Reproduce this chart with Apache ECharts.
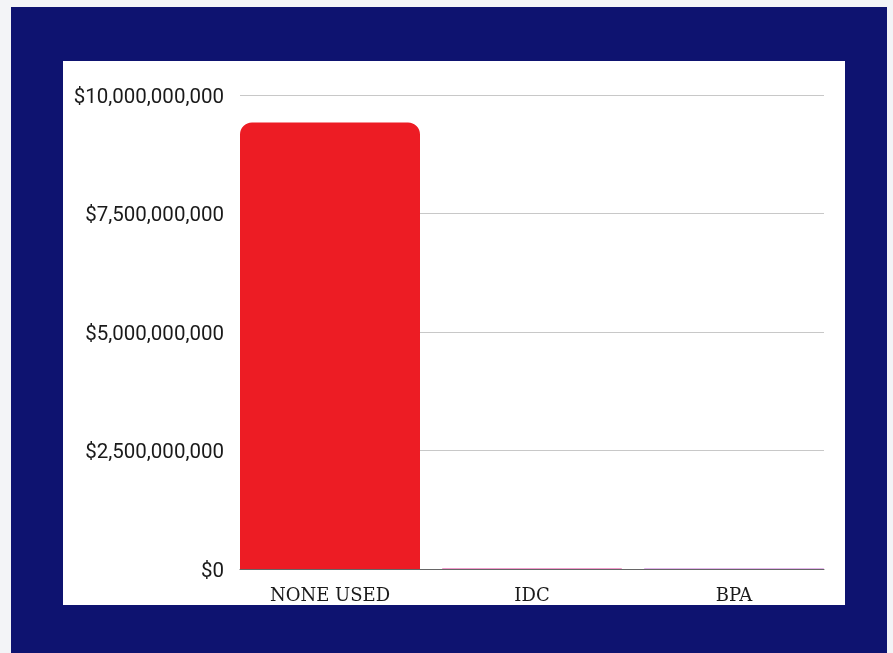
<!DOCTYPE html>
<html>
<head>
<meta charset="utf-8">
<script src="https://cdn.jsdelivr.net/npm/echarts@6/dist/echarts.min.js"></script>
<style>
  html, body { margin: 0; padding: 0; width: 893px; height: 653px; overflow: hidden; background: #f3f4f7; }
  #frame { position: absolute; left: 11px; top: 7px; width: 876px; height: 660px; background: #0e1370; }
  #panel { position: absolute; left: 63px; top: 61px; width: 782px; height: 544px; background: #ffffff; }
  #chart { position: absolute; left: 0; top: 0; width: 893px; height: 653px; }
</style>
</head>
<body>
<div id="frame"></div>
<div id="panel"></div>
<div id="chart"></div>
<script>
const categories = ['NONE USED', 'IDC', 'BPA'];
const values = [9420000000, 12000000, 11000000];
const barColors = ['#ed1c24', '#e2399a', '#c56bd6'];
const yMin = 0;
const yMax = 10000000000;
const yInterval = 2500000000;

function money(v) {
  return '{v|$' + Math.round(v).toString().replace(/\B(?=(\d{3})+(?!\d))/g, ',') + '}';
}

const chart = echarts.init(document.getElementById('chart'), null, { renderer: 'canvas' });
chart.setOption({
  backgroundColor: 'transparent',
  animation: false,
  grid: [
    { left: 240, right: 69, top: 95, bottom: 84 },
    { left: 229, right: 58, top: 95, bottom: 84 }
  ],
  xAxis: [
    {
      gridIndex: 0, type: 'value', min: 0, max: 1,
      axisLine: { show: true, onZero: false, lineStyle: { color: '#666666', width: 1 } },
      axisTick: { show: false }, axisLabel: { show: false }, splitLine: { show: false }
    },
    {
      gridIndex: 1, type: 'category', data: categories,
      axisLine: { show: false }, axisTick: { show: false },
      axisLabel: { color: '#1a1a1a', fontFamily: 'DejaVu Serif', fontSize: 18, margin: 18 }
    }
  ],
  yAxis: [
    {
      gridIndex: 0, type: 'value', min: yMin, max: yMax, interval: yInterval,
      axisLine: { show: false }, axisTick: { show: false },
      axisLabel: {
        color: '#1a1a1a', fontFamily: 'Roboto', fontSize: 20.5, margin: 16, formatter: money,
        rich: { v: { color: '#1a1a1a', fontFamily: 'Roboto', fontSize: 20.5, padding: [5, 0, 0, 0] } }
      },
      splitLine: { show: true, lineStyle: { color: '#c8c8c8', width: 1 } }
    },
    {
      gridIndex: 1, type: 'value', min: yMin, max: yMax, interval: yInterval,
      show: false, splitLine: { show: false }
    }
  ],
  series: [
    {
      type: 'bar', xAxisIndex: 1, yAxisIndex: 1,
      barWidth: 180,
      data: values.map((v, i) => ({ value: v, itemStyle: { color: barColors[i] } })),
      itemStyle: { borderRadius: [12, 12, 0, 0] }
    }
  ]
});
</script>
</body>
</html>
